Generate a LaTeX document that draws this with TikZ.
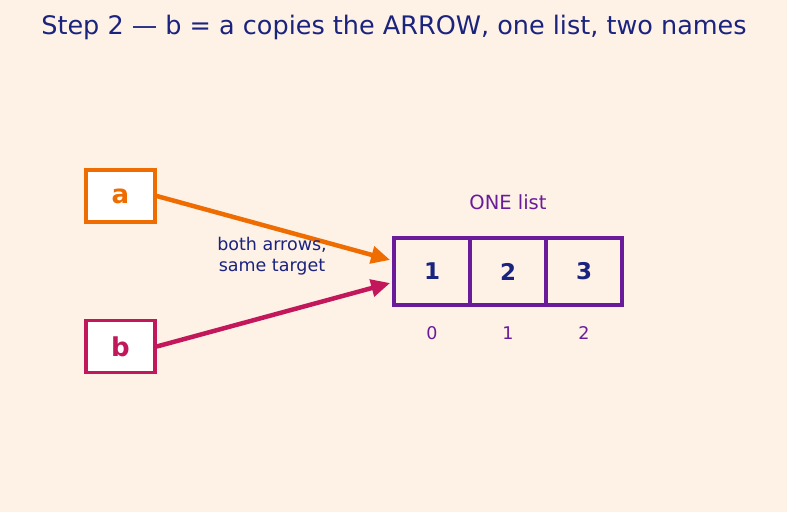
\documentclass[tikz,border=0pt]{standalone}
\usepackage{fontspec}
\setmainfont{DejaVu Sans}
\usetikzlibrary{arrows.meta}
\definecolor{bg}{HTML}{FEF1E6}
\definecolor{navy}{HTML}{1A237E}
\definecolor{orng}{HTML}{EF6C00}
\definecolor{pink}{HTML}{C2185B}
\definecolor{purp}{HTML}{6A1B9A}
\tikzset{
  varbox/.style={draw=#1, line width=3.5pt, fill=white, minimum width=69pt, minimum height=52pt, inner sep=0pt, text=#1, font=\fontsize{26}{30}\selectfont\bfseries},
  cell/.style={draw=purp, line width=3.8pt, minimum width=76pt, minimum height=67pt, inner sep=0pt, text=navy, font=\fontsize{23}{27}\selectfont\bfseries},
  ptr/.style={line width=4.5pt, draw=#1, -{Triangle[length=19pt,width=17pt]}, shorten >=4pt},
  idx/.style={text=purp, font=\fontsize{17.5}{21}\selectfont}
}
\begin{document}
\begin{tikzpicture}[x=1pt,y=-1pt]
\fill[bg] (0,0) rectangle (787,512);
\useasboundingbox (0,0) rectangle (787,512);
\node[text=navy, font=\fontsize{25.5}{30}\selectfont] (title) at (394,27) {Step 2 — b = a copies the ARROW, one list, two names};
\node[varbox=orng] (a) at (120.5,196) {a};
\node[varbox=pink] (b) at (120.5,346.5) {b};
\node[cell] (c0) at (432,271.5) {1};
\node[cell] (c1) at (508,271.5) {2};
\node[cell] (c2) at (584,271.5) {3};
\node[text=purp, font=\fontsize{19.5}{23}\selectfont] (lbl) at (508,202) {ONE list};
\node[idx] (i0) at (432,333) {0};
\node[idx] (i1) at (508,333) {1};
\node[idx] (i2) at (584,333) {2};
\coordinate (ta) at (394,261);
\coordinate (tb) at (394,282);
\draw[ptr=orng] (a.east) -- (ta);
\draw[ptr=pink] (b.east) -- (tb);
\node[text=navy, align=center, font=\fontsize{17.5}{21.5}\selectfont] (note) at (272,256) {both arrows,\\same target};
\end{tikzpicture}
\end{document}
